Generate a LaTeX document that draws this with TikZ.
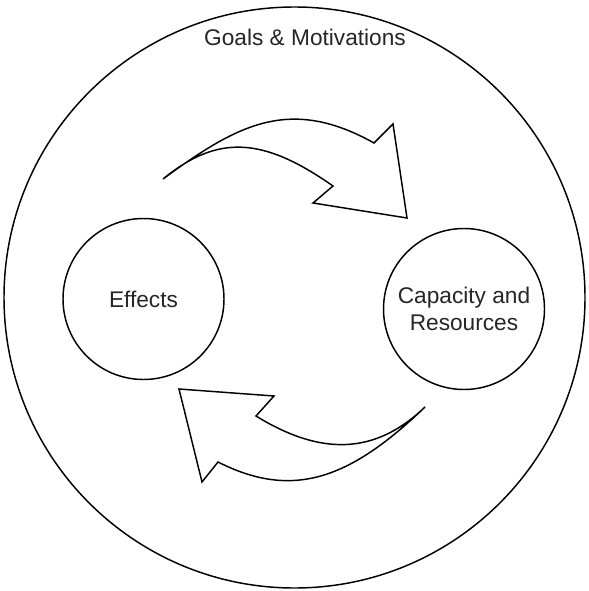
\documentclass[tikz,border=0pt]{standalone}
\usepackage{fontspec}
\setmainfont{Liberation Sans}
\begin{document}
\begin{tikzpicture}[x=0.75pt, y=-0.75pt,
  outline/.style={draw=black, line width=1.1pt, line join=miter},
  label/.style={font=\fontsize{17}{20.3}\selectfont, text=black!85, align=center, inner sep=0pt},
  ring/.style={outline, circle, fill=white, minimum size=#1*0.75pt, inner sep=0pt}]
  \useasboundingbox (0,0) rectangle (588,591);

  % outer boundary
  \node[ring=581] (goals) at (294.5,297.5) {};
  \node[label, anchor=base] (goalstext) at (305,46) {Goals \& Motivations};

  % the two stages of the cycle
  \node[ring=161] (effects) at (143.5,299) {};
  \node[label] (effectstext) at (effects.center) {Effects};
  \node[ring=161] (capacity) at (464,309) {};
  \node[label] (capacitytext) at (capacity.center) {Capacity and\\Resources};

  % curved block arrow: effects -> capacity
  \draw[outline, fill=white]
    (163,179) .. controls (238,124) and (290,96) .. (374,143)
    -- (393,124) -- (407,218) -- (313,203) -- (333,186)
    .. controls (263,137) and (218,134) .. (163,179) -- cycle;

  % curved block arrow: capacity -> effects
  \draw[outline, fill=white]
    (425,407) .. controls (350,479) and (293,500) .. (218,462)
    -- (202,482) -- (179,389) -- (274,396) -- (256,416)
    .. controls (321,456) and (375,455) .. (425,407) -- cycle;
\end{tikzpicture}
\end{document}
